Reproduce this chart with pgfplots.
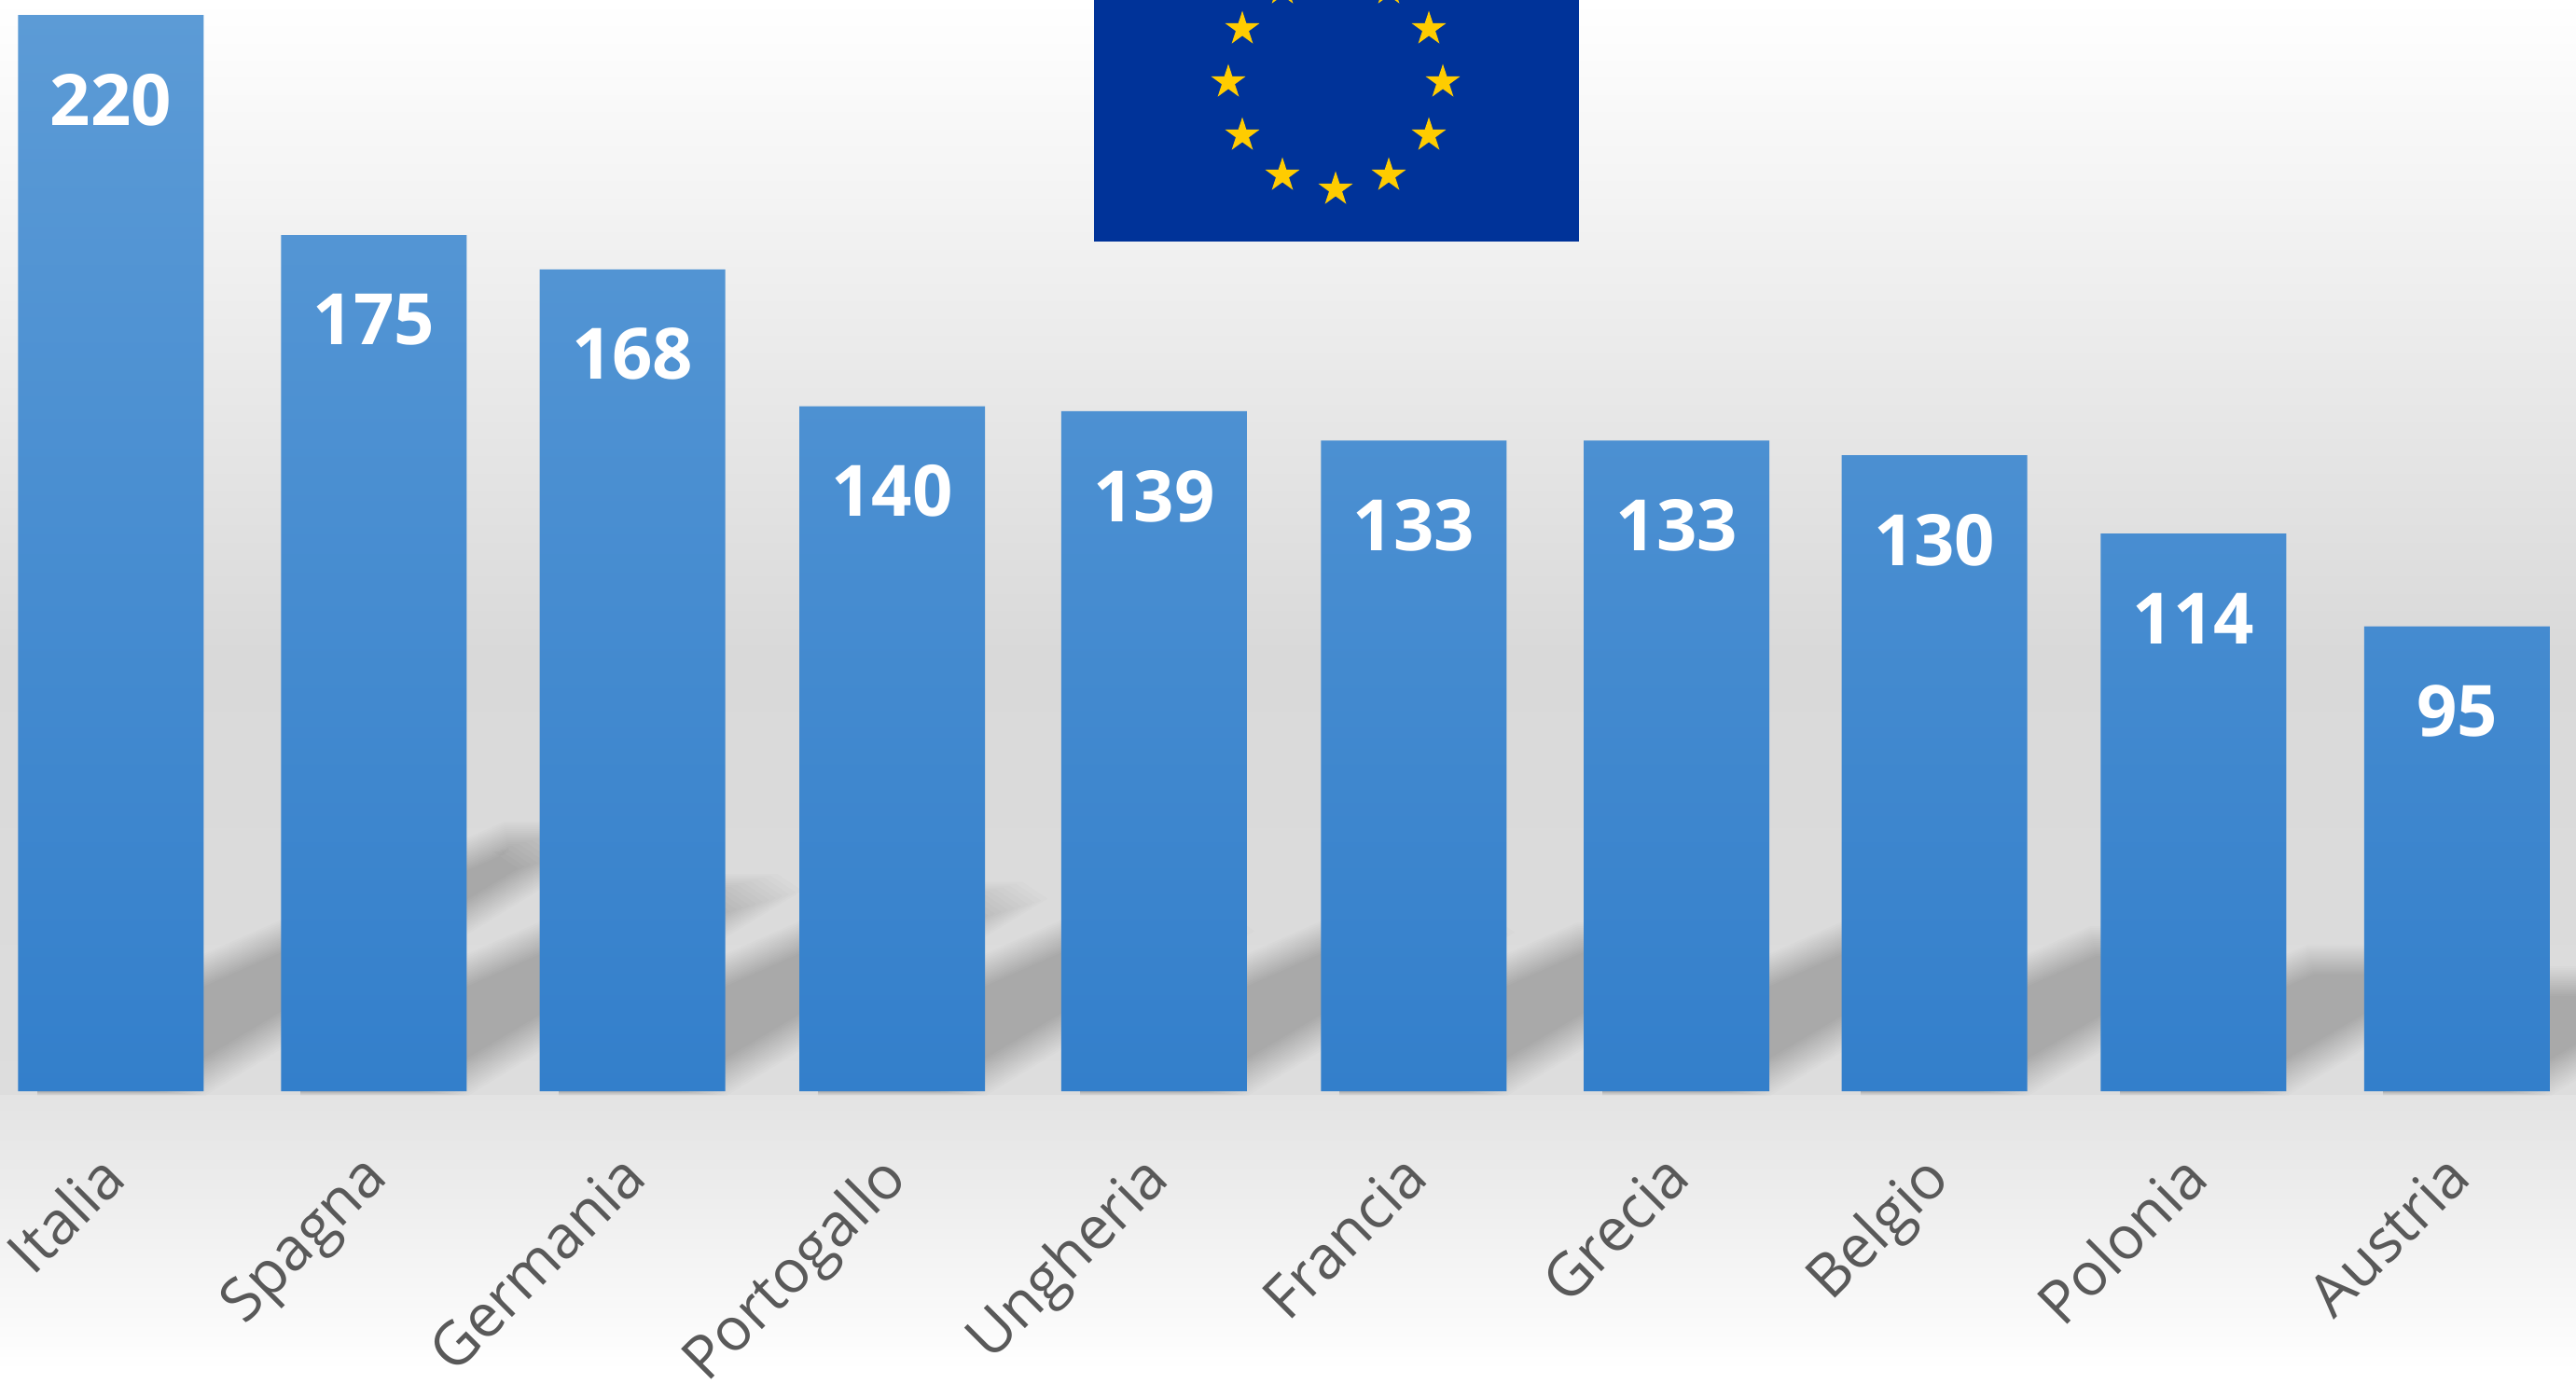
\documentclass[border=0pt]{standalone}
\usepackage{fontspec}
\setmainfont{Open Sans}
\usepackage{pgfplots}
\usepackage{pgfplotstable}
\pgfplotsset{compat=1.18}
\definecolor{bgmid}{HTML}{D9D9D9}
\definecolor{bartop}{HTML}{5C9BD6}
\definecolor{barmid}{HTML}{5092D2}
\definecolor{barbot}{HTML}{337FCB}
\definecolor{flagblue}{HTML}{003399}
\definecolor{flagyel}{HTML}{FFCC00}
\definecolor{labgrey}{HTML}{595959}
\pgfdeclareplotmark{eustar}{%
  \pgfpathmoveto{\pgfqpointpolar{90}{\pgfplotmarksize}}%
  \foreach \a in {1,...,9}{%
    \pgfmathsetmacro\ang{90+36*\a}%
    \pgfmathsetmacro\rad{mod(\a,2)==1 ? 0.382 : 1}%
    \pgfpathlineto{\pgfpointpolar{\ang}{\rad*\pgfplotmarksize}}%
  }%
  \pgfpathclose\pgfusepathqfill}
\pgfplotstableread{
idx value
0.000 220
1.0095 175
2.003 168
3.000 140
4.006 139
5.003 133
6.0126 133
7.003 130
7.997 114
9.0095 95
}\datatable
\newcommand{\shad}[2]{% bar centre px, value
  \foreach \d in {-16,-14,...,16}{%
    \pgfmathsetmacro\hh{#2*1.24-\d}%
    \pgfmathsetmacro\hinL{\d*2.48}%
    \pgfmathsetmacro\hinR{\d*1.9}%
    \pgfmathsetmacro\xb{#1-79}%
    \pgfmathsetmacro\xz{#1-195+\hinL}%
    \pgfmathsetmacro\hB{(\xb-\xz)/2.27}%
    \pgfmathsetmacro\xr{#1+71-\hinR}%
    \pgfmathsetmacro\ybot{1170+(16-\d)*0.15}%
    \pgfmathsetmacro\xtl{\xz+2.27*\hh}%
    \pgfmathsetmacro\xtr{\xr+1.613*\hh}%
    \pgfmathsetmacro\ytop{1170-\hh}%
    \pgfmathsetmacro\yB{1170-\hB}%
    \fill[black,opacity=0.0135] (\xb,\ybot) -- (\xr,\ybot) -- (\xtr-18,\ytop+18) -- (\xtr-45,\ytop) -- (\xtl,\ytop) -- (\xb,\yB) -- cycle;
  }}
\begin{document}
\begin{tikzpicture}
\useasboundingbox (0pt,0pt) rectangle (1381pt,-741.5pt);
\clip (0pt,0pt) rectangle (1381pt,-741.5pt);
\begin{scope}[x=0.5pt,y=-0.5pt]
  \shade[top color=white,bottom color=bgmid] (0,0) rectangle (2762,701);
  \shade[top color=bgmid,bottom color=bgmid!90!white] (0,700) rectangle (2762,1175);
  \shade[top color=black!11,bottom color=white] (0,1174) rectangle (2762,1470);
  \fill[white] (0,1469) rectangle (2762,1483);
  \shad{119}{220}\shad{401}{175}\shad{678}{168}\shad{956}{140}\shad{1237}{139}
  \shad{1515}{133}\shad{1797}{133}\shad{2074}{130}\shad{2352}{114}\shad{2634}{95}
\end{scope}
\begin{axis}[
  at={(0pt,0pt)}, anchor=north west,
  scale only axis, width=1381pt, height=585pt,
  xmin=-0.426, xmax=9.466, ymin=0, ymax=223.07,
  ybar, bar width=99.5pt,
  axis x line*=bottom, axis line style={draw=none},
  hide y axis,
  xtick=data, major tick length=0pt,
  xticklabels={Italia,Spagna,Germania,Portogallo,Ungheria,Francia,Grecia,Belgio,Polonia,Austria},
  xticklabel style={rotate=45,anchor=north east,font=\fontsize{32}{32}\selectfont,text=labgrey,inner sep=0pt,yshift=-16.4pt,xshift=-27.6pt},
  nodes near coords,
  every node near coord/.append style={anchor=center,yshift=-45.5pt,text=white,font=\fontsize{38}{38}\selectfont\bfseries},
  /pgf/number format/assume math mode=true,
]
\addplot[draw=none,top color=bartop,middle color=barmid,bottom color=barbot] table[x=idx,y=value] {\datatable};
\end{axis}
\fill[flagblue] (586.5pt,0pt) rectangle (846.5pt,-129.5pt);
\begin{axis}[
  at={(0pt,0pt)}, anchor=north west,
  scale only axis, width=1381pt, height=741.5pt,
  xmin=0, xmax=2762, ymin=0, ymax=1483,
  hide axis, clip=false,
]
\addplot[only marks,mark=eustar,mark size=9.7pt,color=flagyel,mark options={fill=flagyel,draw=none}] coordinates {
(1547,1395)(1532,1338)(1489,1295)(1432,1280)(1375,1295)(1332,1338)(1317,1395)
(1332,1452)(1375,1495)(1489,1495)(1532,1452)
};
\end{axis}
\end{tikzpicture}
\end{document}
